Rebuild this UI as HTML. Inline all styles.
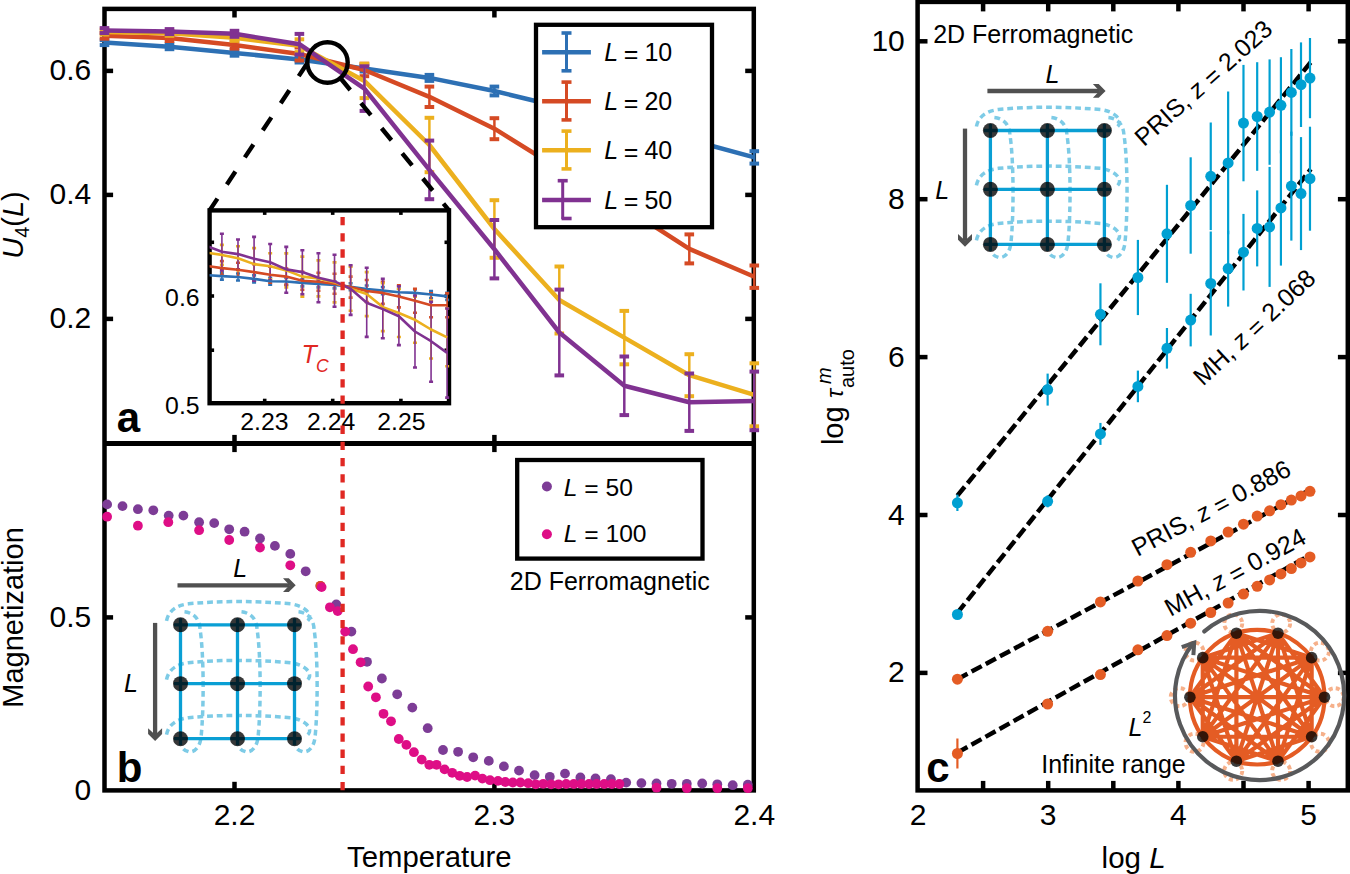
<!DOCTYPE html><html><head><meta charset="utf-8"><style>html,body{margin:0;padding:0;background:#fff;width:1350px;height:874px;overflow:hidden}svg{display:block}</style></head><body><svg width="1350" height="874" viewBox="0 0 1350 874" font-family='"Liberation Sans", sans-serif'>
<rect width="1350" height="874" fill="#fff"/>
<rect x="104.5" y="8.9" width="649.3" height="781.5" fill="none" stroke="#000" stroke-width="4.5"/>
<line x1="104.5" y1="443.5" x2="753.8" y2="443.5" stroke="#000" stroke-width="5" />
<line x1="104.5" y1="70.9" x2="113.1" y2="70.9" stroke="#000" stroke-width="4.5" />
<line x1="753.8" y1="70.9" x2="745.2" y2="70.9" stroke="#000" stroke-width="4.5" />
<line x1="104.5" y1="194.9" x2="113.1" y2="194.9" stroke="#000" stroke-width="4.5" />
<line x1="753.8" y1="194.9" x2="745.2" y2="194.9" stroke="#000" stroke-width="4.5" />
<line x1="104.5" y1="318.9" x2="113.1" y2="318.9" stroke="#000" stroke-width="4.5" />
<line x1="753.8" y1="318.9" x2="745.2" y2="318.9" stroke="#000" stroke-width="4.5" />
<line x1="234.5" y1="8.9" x2="234.5" y2="17.5" stroke="#000" stroke-width="4.5" />
<line x1="234.5" y1="434.9" x2="234.5" y2="452.1" stroke="#000" stroke-width="4.5" />
<line x1="234.5" y1="790.4" x2="234.5" y2="781.8" stroke="#000" stroke-width="4.5" />
<line x1="494.4" y1="8.9" x2="494.4" y2="17.5" stroke="#000" stroke-width="4.5" />
<line x1="494.4" y1="434.9" x2="494.4" y2="452.1" stroke="#000" stroke-width="4.5" />
<line x1="494.4" y1="790.4" x2="494.4" y2="781.8" stroke="#000" stroke-width="4.5" />
<line x1="104.5" y1="617.4" x2="113.1" y2="617.4" stroke="#000" stroke-width="4.5" />
<line x1="753.8" y1="617.4" x2="745.2" y2="617.4" stroke="#000" stroke-width="4.5" />
<text x="91.2" y="80.4" font-size="30" text-anchor="end" fill="#000" >0.6</text>
<text x="91.2" y="204.4" font-size="30" text-anchor="end" fill="#000" >0.4</text>
<text x="91.2" y="328.4" font-size="30" text-anchor="end" fill="#000" >0.2</text>
<text x="91.2" y="626.9" font-size="30" text-anchor="end" fill="#000" >0.5</text>
<text x="91.2" y="799.9" font-size="30" text-anchor="end" fill="#000" >0</text>
<text x="234.5" y="825.3" font-size="30" text-anchor="middle" fill="#000" >2.2</text>
<text x="494.4" y="825.3" font-size="30" text-anchor="middle" fill="#000" >2.3</text>
<text x="754.3" y="825.3" font-size="30" text-anchor="middle" fill="#000" >2.4</text>
<text x="429.3" y="867" font-size="29.3" text-anchor="middle" fill="#000" >Temperature</text>
<text transform="translate(22.7,225) rotate(-90)" font-size="29" text-anchor="middle"><tspan font-style="italic">U</tspan><tspan font-size="20" dy="6">4</tspan><tspan dy="-6">(</tspan><tspan font-style="italic">L</tspan>)</text>
<text transform="translate(22.9,617.5) rotate(-90)" font-size="29" text-anchor="middle">Magnetization</text>
<polyline points="104.5,42.6 169.5,46.7 234.5,52.9 299.4,59.5 364.4,68.5 429.4,77.9 494.4,91 559.3,106.8 624.3,123 689.3,139.7 754.3,157.4" fill="none" stroke="#2D70B4" stroke-width="4.5" stroke-linejoin="round" />
<line x1="104.5" y1="40.1" x2="104.5" y2="45.1" stroke="#2D70B4" stroke-width="2.5" />
<line x1="99.7" y1="40.1" x2="109.3" y2="40.1" stroke="#2D70B4" stroke-width="4" />
<line x1="99.7" y1="45.1" x2="109.3" y2="45.1" stroke="#2D70B4" stroke-width="4" />
<line x1="169.5" y1="44.2" x2="169.5" y2="49.2" stroke="#2D70B4" stroke-width="2.5" />
<line x1="164.7" y1="44.2" x2="174.3" y2="44.2" stroke="#2D70B4" stroke-width="4" />
<line x1="164.7" y1="49.2" x2="174.3" y2="49.2" stroke="#2D70B4" stroke-width="4" />
<line x1="234.5" y1="50.1" x2="234.5" y2="55.7" stroke="#2D70B4" stroke-width="2.5" />
<line x1="229.7" y1="50.1" x2="239.3" y2="50.1" stroke="#2D70B4" stroke-width="4" />
<line x1="229.7" y1="55.7" x2="239.3" y2="55.7" stroke="#2D70B4" stroke-width="4" />
<line x1="299.4" y1="56.5" x2="299.4" y2="62.5" stroke="#2D70B4" stroke-width="2.5" />
<line x1="294.6" y1="56.5" x2="304.2" y2="56.5" stroke="#2D70B4" stroke-width="4" />
<line x1="294.6" y1="62.5" x2="304.2" y2="62.5" stroke="#2D70B4" stroke-width="4" />
<line x1="364.4" y1="65.5" x2="364.4" y2="71.5" stroke="#2D70B4" stroke-width="2.5" />
<line x1="359.6" y1="65.5" x2="369.2" y2="65.5" stroke="#2D70B4" stroke-width="4" />
<line x1="359.6" y1="71.5" x2="369.2" y2="71.5" stroke="#2D70B4" stroke-width="4" />
<line x1="429.4" y1="74.9" x2="429.4" y2="80.9" stroke="#2D70B4" stroke-width="2.5" />
<line x1="424.6" y1="74.9" x2="434.2" y2="74.9" stroke="#2D70B4" stroke-width="4" />
<line x1="424.6" y1="80.9" x2="434.2" y2="80.9" stroke="#2D70B4" stroke-width="4" />
<line x1="494.4" y1="86.6" x2="494.4" y2="95.4" stroke="#2D70B4" stroke-width="2.5" />
<line x1="489.6" y1="86.6" x2="499.2" y2="86.6" stroke="#2D70B4" stroke-width="4" />
<line x1="489.6" y1="95.4" x2="499.2" y2="95.4" stroke="#2D70B4" stroke-width="4" />
<line x1="559.3" y1="101.8" x2="559.3" y2="111.8" stroke="#2D70B4" stroke-width="2.5" />
<line x1="554.5" y1="101.8" x2="564.1" y2="101.8" stroke="#2D70B4" stroke-width="4" />
<line x1="554.5" y1="111.8" x2="564.1" y2="111.8" stroke="#2D70B4" stroke-width="4" />
<line x1="624.3" y1="117.5" x2="624.3" y2="128.5" stroke="#2D70B4" stroke-width="2.5" />
<line x1="619.5" y1="117.5" x2="629.1" y2="117.5" stroke="#2D70B4" stroke-width="4" />
<line x1="619.5" y1="128.5" x2="629.1" y2="128.5" stroke="#2D70B4" stroke-width="4" />
<line x1="689.3" y1="133.7" x2="689.3" y2="145.7" stroke="#2D70B4" stroke-width="2.5" />
<line x1="684.5" y1="133.7" x2="694.1" y2="133.7" stroke="#2D70B4" stroke-width="4" />
<line x1="684.5" y1="145.7" x2="694.1" y2="145.7" stroke="#2D70B4" stroke-width="4" />
<line x1="754.3" y1="151.2" x2="754.3" y2="163.6" stroke="#2D70B4" stroke-width="2.5" />
<line x1="749.5" y1="151.2" x2="759.1" y2="151.2" stroke="#2D70B4" stroke-width="4" />
<line x1="749.5" y1="163.6" x2="759.1" y2="163.6" stroke="#2D70B4" stroke-width="4" />
<polyline points="104.5,35.7 169.5,38 234.5,45.1 299.4,54 364.4,70 429.4,96.8 494.4,128.7 559.3,169 624.3,207 689.3,248.9 754.3,276.7" fill="none" stroke="#D54A24" stroke-width="4.5" stroke-linejoin="round" />
<line x1="104.5" y1="32.7" x2="104.5" y2="38.7" stroke="#D54A24" stroke-width="2.5" />
<line x1="99.7" y1="32.7" x2="109.3" y2="32.7" stroke="#D54A24" stroke-width="4" />
<line x1="99.7" y1="38.7" x2="109.3" y2="38.7" stroke="#D54A24" stroke-width="4" />
<line x1="169.5" y1="35" x2="169.5" y2="41" stroke="#D54A24" stroke-width="2.5" />
<line x1="164.7" y1="35" x2="174.3" y2="35" stroke="#D54A24" stroke-width="4" />
<line x1="164.7" y1="41" x2="174.3" y2="41" stroke="#D54A24" stroke-width="4" />
<line x1="234.5" y1="41.6" x2="234.5" y2="48.6" stroke="#D54A24" stroke-width="2.5" />
<line x1="229.7" y1="41.6" x2="239.3" y2="41.6" stroke="#D54A24" stroke-width="4" />
<line x1="229.7" y1="48.6" x2="239.3" y2="48.6" stroke="#D54A24" stroke-width="4" />
<line x1="299.4" y1="47.5" x2="299.4" y2="60.5" stroke="#D54A24" stroke-width="2.5" />
<line x1="294.6" y1="47.5" x2="304.2" y2="47.5" stroke="#D54A24" stroke-width="4" />
<line x1="294.6" y1="60.5" x2="304.2" y2="60.5" stroke="#D54A24" stroke-width="4" />
<line x1="364.4" y1="63.8" x2="364.4" y2="76.2" stroke="#D54A24" stroke-width="2.5" />
<line x1="359.6" y1="63.8" x2="369.2" y2="63.8" stroke="#D54A24" stroke-width="4" />
<line x1="359.6" y1="76.2" x2="369.2" y2="76.2" stroke="#D54A24" stroke-width="4" />
<line x1="429.4" y1="86.6" x2="429.4" y2="107" stroke="#D54A24" stroke-width="2.5" />
<line x1="424.6" y1="86.6" x2="434.2" y2="86.6" stroke="#D54A24" stroke-width="4" />
<line x1="424.6" y1="107" x2="434.2" y2="107" stroke="#D54A24" stroke-width="4" />
<line x1="494.4" y1="118.2" x2="494.4" y2="139.2" stroke="#D54A24" stroke-width="2.5" />
<line x1="489.6" y1="118.2" x2="499.2" y2="118.2" stroke="#D54A24" stroke-width="4" />
<line x1="489.6" y1="139.2" x2="499.2" y2="139.2" stroke="#D54A24" stroke-width="4" />
<line x1="559.3" y1="157" x2="559.3" y2="181" stroke="#D54A24" stroke-width="2.5" />
<line x1="554.5" y1="157" x2="564.1" y2="157" stroke="#D54A24" stroke-width="4" />
<line x1="554.5" y1="181" x2="564.1" y2="181" stroke="#D54A24" stroke-width="4" />
<line x1="624.3" y1="194" x2="624.3" y2="220" stroke="#D54A24" stroke-width="2.5" />
<line x1="619.5" y1="194" x2="629.1" y2="194" stroke="#D54A24" stroke-width="4" />
<line x1="619.5" y1="220" x2="629.1" y2="220" stroke="#D54A24" stroke-width="4" />
<line x1="689.3" y1="234.4" x2="689.3" y2="263.4" stroke="#D54A24" stroke-width="2.5" />
<line x1="684.5" y1="234.4" x2="694.1" y2="234.4" stroke="#D54A24" stroke-width="4" />
<line x1="684.5" y1="263.4" x2="694.1" y2="263.4" stroke="#D54A24" stroke-width="4" />
<line x1="754.3" y1="265.5" x2="754.3" y2="287.9" stroke="#D54A24" stroke-width="2.5" />
<line x1="749.5" y1="265.5" x2="759.1" y2="265.5" stroke="#D54A24" stroke-width="4" />
<line x1="749.5" y1="287.9" x2="759.1" y2="287.9" stroke="#D54A24" stroke-width="4" />
<polyline points="104.5,32 169.5,33.3 234.5,37.8 299.4,45.7 364.4,80.9 429.4,145 494.4,229 559.3,300 624.3,337.6 689.3,375.2 754.3,394.8" fill="none" stroke="#ECB01E" stroke-width="4.5" stroke-linejoin="round" />
<line x1="104.5" y1="29.5" x2="104.5" y2="34.5" stroke="#ECB01E" stroke-width="2.5" />
<line x1="99.7" y1="29.5" x2="109.3" y2="29.5" stroke="#ECB01E" stroke-width="4" />
<line x1="99.7" y1="34.5" x2="109.3" y2="34.5" stroke="#ECB01E" stroke-width="4" />
<line x1="169.5" y1="30.8" x2="169.5" y2="35.8" stroke="#ECB01E" stroke-width="2.5" />
<line x1="164.7" y1="30.8" x2="174.3" y2="30.8" stroke="#ECB01E" stroke-width="4" />
<line x1="164.7" y1="35.8" x2="174.3" y2="35.8" stroke="#ECB01E" stroke-width="4" />
<line x1="234.5" y1="34.8" x2="234.5" y2="40.8" stroke="#ECB01E" stroke-width="2.5" />
<line x1="229.7" y1="34.8" x2="239.3" y2="34.8" stroke="#ECB01E" stroke-width="4" />
<line x1="229.7" y1="40.8" x2="239.3" y2="40.8" stroke="#ECB01E" stroke-width="4" />
<line x1="299.4" y1="39.3" x2="299.4" y2="52.1" stroke="#ECB01E" stroke-width="2.5" />
<line x1="294.6" y1="39.3" x2="304.2" y2="39.3" stroke="#ECB01E" stroke-width="4" />
<line x1="294.6" y1="52.1" x2="304.2" y2="52.1" stroke="#ECB01E" stroke-width="4" />
<line x1="364.4" y1="63.7" x2="364.4" y2="98.1" stroke="#ECB01E" stroke-width="2.5" />
<line x1="359.6" y1="63.7" x2="369.2" y2="63.7" stroke="#ECB01E" stroke-width="4" />
<line x1="359.6" y1="98.1" x2="369.2" y2="98.1" stroke="#ECB01E" stroke-width="4" />
<line x1="429.4" y1="117.8" x2="429.4" y2="172.2" stroke="#ECB01E" stroke-width="2.5" />
<line x1="424.6" y1="117.8" x2="434.2" y2="117.8" stroke="#ECB01E" stroke-width="4" />
<line x1="424.6" y1="172.2" x2="434.2" y2="172.2" stroke="#ECB01E" stroke-width="4" />
<line x1="494.4" y1="200.2" x2="494.4" y2="257.8" stroke="#ECB01E" stroke-width="2.5" />
<line x1="489.6" y1="200.2" x2="499.2" y2="200.2" stroke="#ECB01E" stroke-width="4" />
<line x1="489.6" y1="257.8" x2="499.2" y2="257.8" stroke="#ECB01E" stroke-width="4" />
<line x1="559.3" y1="266.5" x2="559.3" y2="333.5" stroke="#ECB01E" stroke-width="2.5" />
<line x1="554.5" y1="266.5" x2="564.1" y2="266.5" stroke="#ECB01E" stroke-width="4" />
<line x1="554.5" y1="333.5" x2="564.1" y2="333.5" stroke="#ECB01E" stroke-width="4" />
<line x1="624.3" y1="310.9" x2="624.3" y2="364.3" stroke="#ECB01E" stroke-width="2.5" />
<line x1="619.5" y1="310.9" x2="629.1" y2="310.9" stroke="#ECB01E" stroke-width="4" />
<line x1="619.5" y1="364.3" x2="629.1" y2="364.3" stroke="#ECB01E" stroke-width="4" />
<line x1="689.3" y1="354.2" x2="689.3" y2="396.2" stroke="#ECB01E" stroke-width="2.5" />
<line x1="684.5" y1="354.2" x2="694.1" y2="354.2" stroke="#ECB01E" stroke-width="4" />
<line x1="684.5" y1="396.2" x2="694.1" y2="396.2" stroke="#ECB01E" stroke-width="4" />
<line x1="754.3" y1="363.3" x2="754.3" y2="426.3" stroke="#ECB01E" stroke-width="2.5" />
<line x1="749.5" y1="363.3" x2="759.1" y2="363.3" stroke="#ECB01E" stroke-width="4" />
<line x1="749.5" y1="426.3" x2="759.1" y2="426.3" stroke="#ECB01E" stroke-width="4" />
<polyline points="104.5,30.6 169.5,31.6 234.5,33.8 299.4,44.2 364.4,88.6 429.4,169.9 494.4,249.2 559.3,332.5 624.3,385.8 689.3,402.2 754.3,400.9" fill="none" stroke="#803291" stroke-width="4.5" stroke-linejoin="round" />
<line x1="104.5" y1="28.1" x2="104.5" y2="33.1" stroke="#803291" stroke-width="2.5" />
<line x1="99.7" y1="28.1" x2="109.3" y2="28.1" stroke="#803291" stroke-width="4" />
<line x1="99.7" y1="33.1" x2="109.3" y2="33.1" stroke="#803291" stroke-width="4" />
<line x1="169.5" y1="29.1" x2="169.5" y2="34.1" stroke="#803291" stroke-width="2.5" />
<line x1="164.7" y1="29.1" x2="174.3" y2="29.1" stroke="#803291" stroke-width="4" />
<line x1="164.7" y1="34.1" x2="174.3" y2="34.1" stroke="#803291" stroke-width="4" />
<line x1="234.5" y1="30.8" x2="234.5" y2="36.8" stroke="#803291" stroke-width="2.5" />
<line x1="229.7" y1="30.8" x2="239.3" y2="30.8" stroke="#803291" stroke-width="4" />
<line x1="229.7" y1="36.8" x2="239.3" y2="36.8" stroke="#803291" stroke-width="4" />
<line x1="299.4" y1="33.9" x2="299.4" y2="54.5" stroke="#803291" stroke-width="2.5" />
<line x1="294.6" y1="33.9" x2="304.2" y2="33.9" stroke="#803291" stroke-width="4" />
<line x1="294.6" y1="54.5" x2="304.2" y2="54.5" stroke="#803291" stroke-width="4" />
<line x1="364.4" y1="66.3" x2="364.4" y2="110.9" stroke="#803291" stroke-width="2.5" />
<line x1="359.6" y1="66.3" x2="369.2" y2="66.3" stroke="#803291" stroke-width="4" />
<line x1="359.6" y1="110.9" x2="369.2" y2="110.9" stroke="#803291" stroke-width="4" />
<line x1="429.4" y1="140.6" x2="429.4" y2="199.2" stroke="#803291" stroke-width="2.5" />
<line x1="424.6" y1="140.6" x2="434.2" y2="140.6" stroke="#803291" stroke-width="4" />
<line x1="424.6" y1="199.2" x2="434.2" y2="199.2" stroke="#803291" stroke-width="4" />
<line x1="494.4" y1="220" x2="494.4" y2="278.4" stroke="#803291" stroke-width="2.5" />
<line x1="489.6" y1="220" x2="499.2" y2="220" stroke="#803291" stroke-width="4" />
<line x1="489.6" y1="278.4" x2="499.2" y2="278.4" stroke="#803291" stroke-width="4" />
<line x1="559.3" y1="289.6" x2="559.3" y2="375.4" stroke="#803291" stroke-width="2.5" />
<line x1="554.5" y1="289.6" x2="564.1" y2="289.6" stroke="#803291" stroke-width="4" />
<line x1="554.5" y1="375.4" x2="564.1" y2="375.4" stroke="#803291" stroke-width="4" />
<line x1="624.3" y1="356.5" x2="624.3" y2="415.1" stroke="#803291" stroke-width="2.5" />
<line x1="619.5" y1="356.5" x2="629.1" y2="356.5" stroke="#803291" stroke-width="4" />
<line x1="619.5" y1="415.1" x2="629.1" y2="415.1" stroke="#803291" stroke-width="4" />
<line x1="689.3" y1="373.5" x2="689.3" y2="430.9" stroke="#803291" stroke-width="2.5" />
<line x1="684.5" y1="373.5" x2="694.1" y2="373.5" stroke="#803291" stroke-width="4" />
<line x1="684.5" y1="430.9" x2="694.1" y2="430.9" stroke="#803291" stroke-width="4" />
<line x1="754.3" y1="371.6" x2="754.3" y2="430.2" stroke="#803291" stroke-width="2.5" />
<line x1="749.5" y1="371.6" x2="759.1" y2="371.6" stroke="#803291" stroke-width="4" />
<line x1="749.5" y1="430.2" x2="759.1" y2="430.2" stroke="#803291" stroke-width="4" />
<rect x="536" y="24.8" width="176" height="202.4" fill="#fff" stroke="#000" stroke-width="4.3"/>
<line x1="542.1" y1="52.2" x2="590.9" y2="52.2" stroke="#2D70B4" stroke-width="4.5" />
<line x1="566.5" y1="33" x2="566.5" y2="71.4" stroke="#2D70B4" stroke-width="3" />
<line x1="561.5" y1="33" x2="571.5" y2="33" stroke="#2D70B4" stroke-width="3.6" />
<line x1="561.5" y1="70.8" x2="571.5" y2="70.8" stroke="#2D70B4" stroke-width="3.6" />
<text x="604.2" y="61" font-size="25" text-anchor="start" fill="#000" ><tspan font-style="italic">L</tspan><tspan dx="-1.2" dy="1.6"> = </tspan><tspan dx="-1" dy="-1.6">10</tspan></text>
<line x1="542.1" y1="101.3" x2="590.9" y2="101.3" stroke="#D54A24" stroke-width="4.5" />
<line x1="566.5" y1="82.1" x2="566.5" y2="120.5" stroke="#D54A24" stroke-width="3" />
<line x1="561.5" y1="82.1" x2="571.5" y2="82.1" stroke="#D54A24" stroke-width="3.6" />
<line x1="561.5" y1="119.9" x2="571.5" y2="119.9" stroke="#D54A24" stroke-width="3.6" />
<text x="604.2" y="110.1" font-size="25" text-anchor="start" fill="#000" ><tspan font-style="italic">L</tspan><tspan dx="-1.2" dy="1.6"> = </tspan><tspan dx="-1" dy="-1.6">20</tspan></text>
<line x1="542.1" y1="150.3" x2="590.9" y2="150.3" stroke="#ECB01E" stroke-width="4.5" />
<line x1="566.5" y1="131.1" x2="566.5" y2="169.5" stroke="#ECB01E" stroke-width="3" />
<line x1="561.5" y1="131.1" x2="571.5" y2="131.1" stroke="#ECB01E" stroke-width="3.6" />
<line x1="561.5" y1="168.9" x2="571.5" y2="168.9" stroke="#ECB01E" stroke-width="3.6" />
<text x="604.2" y="159.1" font-size="25" text-anchor="start" fill="#000" ><tspan font-style="italic">L</tspan><tspan dx="-1.2" dy="1.6"> = </tspan><tspan dx="-1" dy="-1.6">40</tspan></text>
<line x1="542.1" y1="199.9" x2="590.9" y2="199.9" stroke="#803291" stroke-width="4.5" />
<line x1="562.7" y1="180.7" x2="562.7" y2="219.1" stroke="#803291" stroke-width="3" />
<line x1="557.7" y1="180.7" x2="567.7" y2="180.7" stroke="#803291" stroke-width="3.6" />
<line x1="561.6" y1="218.5" x2="571.6" y2="218.5" stroke="#803291" stroke-width="3.6" />
<text x="604.2" y="208.7" font-size="25" text-anchor="start" fill="#000" ><tspan font-style="italic">L</tspan><tspan dx="-1.2" dy="1.6"> = </tspan><tspan dx="-1" dy="-1.6">50</tspan></text>
<rect x="209.6" y="210.4" width="239.4" height="192.8" fill="#fff" stroke="none"/>
<clipPath id="ic"><rect x="209.6" y="207.4" width="241.8" height="197.8"/></clipPath>
<rect x="209.6" y="210.4" width="239.4" height="192.8" fill="none" stroke="#000" stroke-width="4.4"/>
<line x1="264.7" y1="210.4" x2="264.7" y2="214.9" stroke="#000" stroke-width="3.6" />
<line x1="264.7" y1="403.2" x2="264.7" y2="398.7" stroke="#000" stroke-width="3.6" />
<line x1="332.7" y1="210.4" x2="332.7" y2="214.9" stroke="#000" stroke-width="3.6" />
<line x1="332.7" y1="403.2" x2="332.7" y2="398.7" stroke="#000" stroke-width="3.6" />
<line x1="400.9" y1="210.4" x2="400.9" y2="214.9" stroke="#000" stroke-width="3.6" />
<line x1="400.9" y1="403.2" x2="400.9" y2="398.7" stroke="#000" stroke-width="3.6" />
<line x1="209.6" y1="242.3" x2="214.1" y2="242.3" stroke="#000" stroke-width="3.6" />
<line x1="449" y1="242.3" x2="444.5" y2="242.3" stroke="#000" stroke-width="3.6" />
<line x1="209.6" y1="296" x2="214.1" y2="296" stroke="#000" stroke-width="3.6" />
<line x1="449" y1="296" x2="444.5" y2="296" stroke="#000" stroke-width="3.6" />
<line x1="209.6" y1="350.2" x2="214.1" y2="350.2" stroke="#000" stroke-width="3.6" />
<line x1="449" y1="350.2" x2="444.5" y2="350.2" stroke="#000" stroke-width="3.6" />
<g clip-path="url(#ic)">
<line x1="205.81" y1="271.5" x2="205.81" y2="278.5" stroke="#2D70B4" stroke-width="1.6" />
<line x1="203.81" y1="271.5" x2="207.81" y2="271.5" stroke="#2D70B4" stroke-width="2.6" />
<line x1="203.81" y1="278.5" x2="207.81" y2="278.5" stroke="#2D70B4" stroke-width="2.6" />
<line x1="221.9" y1="272.6" x2="221.9" y2="279.6" stroke="#2D70B4" stroke-width="1.6" />
<line x1="219.9" y1="272.6" x2="223.9" y2="272.6" stroke="#2D70B4" stroke-width="2.6" />
<line x1="219.9" y1="279.6" x2="223.9" y2="279.6" stroke="#2D70B4" stroke-width="2.6" />
<line x1="237.99" y1="273.5" x2="237.99" y2="280.5" stroke="#2D70B4" stroke-width="1.6" />
<line x1="235.99" y1="273.5" x2="239.99" y2="273.5" stroke="#2D70B4" stroke-width="2.6" />
<line x1="235.99" y1="280.5" x2="239.99" y2="280.5" stroke="#2D70B4" stroke-width="2.6" />
<line x1="254.08" y1="275.4" x2="254.08" y2="282.4" stroke="#2D70B4" stroke-width="1.6" />
<line x1="252.08" y1="275.4" x2="256.08" y2="275.4" stroke="#2D70B4" stroke-width="2.6" />
<line x1="252.08" y1="282.4" x2="256.08" y2="282.4" stroke="#2D70B4" stroke-width="2.6" />
<line x1="270.17" y1="277.7" x2="270.17" y2="284.7" stroke="#2D70B4" stroke-width="1.6" />
<line x1="268.17" y1="277.7" x2="272.17" y2="277.7" stroke="#2D70B4" stroke-width="2.6" />
<line x1="268.17" y1="284.7" x2="272.17" y2="284.7" stroke="#2D70B4" stroke-width="2.6" />
<line x1="286.26" y1="278" x2="286.26" y2="285" stroke="#2D70B4" stroke-width="1.6" />
<line x1="284.26" y1="278" x2="288.26" y2="278" stroke="#2D70B4" stroke-width="2.6" />
<line x1="284.26" y1="285" x2="288.26" y2="285" stroke="#2D70B4" stroke-width="2.6" />
<line x1="302.35" y1="279.4" x2="302.35" y2="286.4" stroke="#2D70B4" stroke-width="1.6" />
<line x1="300.35" y1="279.4" x2="304.35" y2="279.4" stroke="#2D70B4" stroke-width="2.6" />
<line x1="300.35" y1="286.4" x2="304.35" y2="286.4" stroke="#2D70B4" stroke-width="2.6" />
<line x1="318.44" y1="280.4" x2="318.44" y2="287.4" stroke="#2D70B4" stroke-width="1.6" />
<line x1="316.44" y1="280.4" x2="320.44" y2="280.4" stroke="#2D70B4" stroke-width="2.6" />
<line x1="316.44" y1="287.4" x2="320.44" y2="287.4" stroke="#2D70B4" stroke-width="2.6" />
<line x1="334.53" y1="281.4" x2="334.53" y2="288.4" stroke="#2D70B4" stroke-width="1.6" />
<line x1="332.53" y1="281.4" x2="336.53" y2="281.4" stroke="#2D70B4" stroke-width="2.6" />
<line x1="332.53" y1="288.4" x2="336.53" y2="288.4" stroke="#2D70B4" stroke-width="2.6" />
<line x1="350.62" y1="283.2" x2="350.62" y2="290.2" stroke="#2D70B4" stroke-width="1.6" />
<line x1="348.62" y1="283.2" x2="352.62" y2="283.2" stroke="#2D70B4" stroke-width="2.6" />
<line x1="348.62" y1="290.2" x2="352.62" y2="290.2" stroke="#2D70B4" stroke-width="2.6" />
<line x1="366.71" y1="285.5" x2="366.71" y2="292.5" stroke="#2D70B4" stroke-width="1.6" />
<line x1="364.71" y1="285.5" x2="368.71" y2="285.5" stroke="#2D70B4" stroke-width="2.6" />
<line x1="364.71" y1="292.5" x2="368.71" y2="292.5" stroke="#2D70B4" stroke-width="2.6" />
<line x1="382.8" y1="287.1" x2="382.8" y2="294.1" stroke="#2D70B4" stroke-width="1.6" />
<line x1="380.8" y1="287.1" x2="384.8" y2="287.1" stroke="#2D70B4" stroke-width="2.6" />
<line x1="380.8" y1="294.1" x2="384.8" y2="294.1" stroke="#2D70B4" stroke-width="2.6" />
<line x1="398.89" y1="288.7" x2="398.89" y2="295.7" stroke="#2D70B4" stroke-width="1.6" />
<line x1="396.89" y1="288.7" x2="400.89" y2="288.7" stroke="#2D70B4" stroke-width="2.6" />
<line x1="396.89" y1="295.7" x2="400.89" y2="295.7" stroke="#2D70B4" stroke-width="2.6" />
<line x1="414.98" y1="289.4" x2="414.98" y2="296.4" stroke="#2D70B4" stroke-width="1.6" />
<line x1="412.98" y1="289.4" x2="416.98" y2="289.4" stroke="#2D70B4" stroke-width="2.6" />
<line x1="412.98" y1="296.4" x2="416.98" y2="296.4" stroke="#2D70B4" stroke-width="2.6" />
<line x1="431.07" y1="291" x2="431.07" y2="298" stroke="#2D70B4" stroke-width="1.6" />
<line x1="429.07" y1="291" x2="433.07" y2="291" stroke="#2D70B4" stroke-width="2.6" />
<line x1="429.07" y1="298" x2="433.07" y2="298" stroke="#2D70B4" stroke-width="2.6" />
<line x1="447.16" y1="292.9" x2="447.16" y2="299.9" stroke="#2D70B4" stroke-width="1.6" />
<line x1="445.16" y1="292.9" x2="449.16" y2="292.9" stroke="#2D70B4" stroke-width="2.6" />
<line x1="445.16" y1="299.9" x2="449.16" y2="299.9" stroke="#2D70B4" stroke-width="2.6" />
<line x1="205.81" y1="258.8" x2="205.81" y2="272.8" stroke="#D54A24" stroke-width="1.6" />
<line x1="203.81" y1="258.8" x2="207.81" y2="258.8" stroke="#D54A24" stroke-width="2.6" />
<line x1="203.81" y1="272.8" x2="207.81" y2="272.8" stroke="#D54A24" stroke-width="2.6" />
<line x1="221.9" y1="261.1" x2="221.9" y2="275.1" stroke="#D54A24" stroke-width="1.6" />
<line x1="219.9" y1="261.1" x2="223.9" y2="261.1" stroke="#D54A24" stroke-width="2.6" />
<line x1="219.9" y1="275.1" x2="223.9" y2="275.1" stroke="#D54A24" stroke-width="2.6" />
<line x1="237.99" y1="262.8" x2="237.99" y2="276.8" stroke="#D54A24" stroke-width="1.6" />
<line x1="235.99" y1="262.8" x2="239.99" y2="262.8" stroke="#D54A24" stroke-width="2.6" />
<line x1="235.99" y1="276.8" x2="239.99" y2="276.8" stroke="#D54A24" stroke-width="2.6" />
<line x1="254.08" y1="264.1" x2="254.08" y2="280.1" stroke="#D54A24" stroke-width="1.6" />
<line x1="252.08" y1="264.1" x2="256.08" y2="264.1" stroke="#D54A24" stroke-width="2.6" />
<line x1="252.08" y1="280.1" x2="256.08" y2="280.1" stroke="#D54A24" stroke-width="2.6" />
<line x1="270.17" y1="266.7" x2="270.17" y2="282.7" stroke="#D54A24" stroke-width="1.6" />
<line x1="268.17" y1="266.7" x2="272.17" y2="266.7" stroke="#D54A24" stroke-width="2.6" />
<line x1="268.17" y1="282.7" x2="272.17" y2="282.7" stroke="#D54A24" stroke-width="2.6" />
<line x1="286.26" y1="268.6" x2="286.26" y2="284.6" stroke="#D54A24" stroke-width="1.6" />
<line x1="284.26" y1="268.6" x2="288.26" y2="268.6" stroke="#D54A24" stroke-width="2.6" />
<line x1="284.26" y1="284.6" x2="288.26" y2="284.6" stroke="#D54A24" stroke-width="2.6" />
<line x1="302.35" y1="271.7" x2="302.35" y2="289.7" stroke="#D54A24" stroke-width="1.6" />
<line x1="300.35" y1="271.7" x2="304.35" y2="271.7" stroke="#D54A24" stroke-width="2.6" />
<line x1="300.35" y1="289.7" x2="304.35" y2="289.7" stroke="#D54A24" stroke-width="2.6" />
<line x1="318.44" y1="272.8" x2="318.44" y2="290.8" stroke="#D54A24" stroke-width="1.6" />
<line x1="316.44" y1="272.8" x2="320.44" y2="272.8" stroke="#D54A24" stroke-width="2.6" />
<line x1="316.44" y1="290.8" x2="320.44" y2="290.8" stroke="#D54A24" stroke-width="2.6" />
<line x1="334.53" y1="273.8" x2="334.53" y2="293.8" stroke="#D54A24" stroke-width="1.6" />
<line x1="332.53" y1="273.8" x2="336.53" y2="273.8" stroke="#D54A24" stroke-width="2.6" />
<line x1="332.53" y1="293.8" x2="336.53" y2="293.8" stroke="#D54A24" stroke-width="2.6" />
<line x1="350.62" y1="276.6" x2="350.62" y2="297.6" stroke="#D54A24" stroke-width="1.6" />
<line x1="348.62" y1="276.6" x2="352.62" y2="276.6" stroke="#D54A24" stroke-width="2.6" />
<line x1="348.62" y1="297.6" x2="352.62" y2="297.6" stroke="#D54A24" stroke-width="2.6" />
<line x1="366.71" y1="280" x2="366.71" y2="302" stroke="#D54A24" stroke-width="1.6" />
<line x1="364.71" y1="280" x2="368.71" y2="280" stroke="#D54A24" stroke-width="2.6" />
<line x1="364.71" y1="302" x2="368.71" y2="302" stroke="#D54A24" stroke-width="2.6" />
<line x1="382.8" y1="281.9" x2="382.8" y2="303.9" stroke="#D54A24" stroke-width="1.6" />
<line x1="380.8" y1="281.9" x2="384.8" y2="281.9" stroke="#D54A24" stroke-width="2.6" />
<line x1="380.8" y1="303.9" x2="384.8" y2="303.9" stroke="#D54A24" stroke-width="2.6" />
<line x1="398.89" y1="285.4" x2="398.89" y2="307.4" stroke="#D54A24" stroke-width="1.6" />
<line x1="396.89" y1="285.4" x2="400.89" y2="285.4" stroke="#D54A24" stroke-width="2.6" />
<line x1="396.89" y1="307.4" x2="400.89" y2="307.4" stroke="#D54A24" stroke-width="2.6" />
<line x1="414.98" y1="288.7" x2="414.98" y2="312.7" stroke="#D54A24" stroke-width="1.6" />
<line x1="412.98" y1="288.7" x2="416.98" y2="288.7" stroke="#D54A24" stroke-width="2.6" />
<line x1="412.98" y1="312.7" x2="416.98" y2="312.7" stroke="#D54A24" stroke-width="2.6" />
<line x1="431.07" y1="293.2" x2="431.07" y2="317.2" stroke="#D54A24" stroke-width="1.6" />
<line x1="429.07" y1="293.2" x2="433.07" y2="293.2" stroke="#D54A24" stroke-width="2.6" />
<line x1="429.07" y1="317.2" x2="433.07" y2="317.2" stroke="#D54A24" stroke-width="2.6" />
<line x1="447.16" y1="293.2" x2="447.16" y2="317.2" stroke="#D54A24" stroke-width="1.6" />
<line x1="445.16" y1="293.2" x2="449.16" y2="293.2" stroke="#D54A24" stroke-width="2.6" />
<line x1="445.16" y1="317.2" x2="449.16" y2="317.2" stroke="#D54A24" stroke-width="2.6" />
<line x1="205.81" y1="242.6" x2="205.81" y2="262.6" stroke="#ECB01E" stroke-width="1.6" />
<line x1="203.81" y1="242.6" x2="207.81" y2="242.6" stroke="#ECB01E" stroke-width="2.6" />
<line x1="203.81" y1="262.6" x2="207.81" y2="262.6" stroke="#ECB01E" stroke-width="2.6" />
<line x1="221.9" y1="244.9" x2="221.9" y2="264.9" stroke="#ECB01E" stroke-width="1.6" />
<line x1="219.9" y1="244.9" x2="223.9" y2="244.9" stroke="#ECB01E" stroke-width="2.6" />
<line x1="219.9" y1="264.9" x2="223.9" y2="264.9" stroke="#ECB01E" stroke-width="2.6" />
<line x1="237.99" y1="246.3" x2="237.99" y2="270.3" stroke="#ECB01E" stroke-width="1.6" />
<line x1="235.99" y1="246.3" x2="239.99" y2="246.3" stroke="#ECB01E" stroke-width="2.6" />
<line x1="235.99" y1="270.3" x2="239.99" y2="270.3" stroke="#ECB01E" stroke-width="2.6" />
<line x1="254.08" y1="248.1" x2="254.08" y2="280.1" stroke="#ECB01E" stroke-width="1.6" />
<line x1="252.08" y1="248.1" x2="256.08" y2="248.1" stroke="#ECB01E" stroke-width="2.6" />
<line x1="252.08" y1="280.1" x2="256.08" y2="280.1" stroke="#ECB01E" stroke-width="2.6" />
<line x1="270.17" y1="253.3" x2="270.17" y2="279.3" stroke="#ECB01E" stroke-width="1.6" />
<line x1="268.17" y1="253.3" x2="272.17" y2="253.3" stroke="#ECB01E" stroke-width="2.6" />
<line x1="268.17" y1="279.3" x2="272.17" y2="279.3" stroke="#ECB01E" stroke-width="2.6" />
<line x1="286.26" y1="253.4" x2="286.26" y2="287.4" stroke="#ECB01E" stroke-width="1.6" />
<line x1="284.26" y1="253.4" x2="288.26" y2="253.4" stroke="#ECB01E" stroke-width="2.6" />
<line x1="284.26" y1="287.4" x2="288.26" y2="287.4" stroke="#ECB01E" stroke-width="2.6" />
<line x1="302.35" y1="256.6" x2="302.35" y2="296.6" stroke="#ECB01E" stroke-width="1.6" />
<line x1="300.35" y1="256.6" x2="304.35" y2="256.6" stroke="#ECB01E" stroke-width="2.6" />
<line x1="300.35" y1="296.6" x2="304.35" y2="296.6" stroke="#ECB01E" stroke-width="2.6" />
<line x1="318.44" y1="260.4" x2="318.44" y2="296.4" stroke="#ECB01E" stroke-width="1.6" />
<line x1="316.44" y1="260.4" x2="320.44" y2="260.4" stroke="#ECB01E" stroke-width="2.6" />
<line x1="316.44" y1="296.4" x2="320.44" y2="296.4" stroke="#ECB01E" stroke-width="2.6" />
<line x1="334.53" y1="262.4" x2="334.53" y2="302.4" stroke="#ECB01E" stroke-width="1.6" />
<line x1="332.53" y1="262.4" x2="336.53" y2="262.4" stroke="#ECB01E" stroke-width="2.6" />
<line x1="332.53" y1="302.4" x2="336.53" y2="302.4" stroke="#ECB01E" stroke-width="2.6" />
<line x1="350.62" y1="266.7" x2="350.62" y2="310.7" stroke="#ECB01E" stroke-width="1.6" />
<line x1="348.62" y1="266.7" x2="352.62" y2="266.7" stroke="#ECB01E" stroke-width="2.6" />
<line x1="348.62" y1="310.7" x2="352.62" y2="310.7" stroke="#ECB01E" stroke-width="2.6" />
<line x1="366.71" y1="272.1" x2="366.71" y2="316.1" stroke="#ECB01E" stroke-width="1.6" />
<line x1="364.71" y1="272.1" x2="368.71" y2="272.1" stroke="#ECB01E" stroke-width="2.6" />
<line x1="364.71" y1="316.1" x2="368.71" y2="316.1" stroke="#ECB01E" stroke-width="2.6" />
<line x1="382.8" y1="283.1" x2="382.8" y2="331.1" stroke="#ECB01E" stroke-width="1.6" />
<line x1="380.8" y1="283.1" x2="384.8" y2="283.1" stroke="#ECB01E" stroke-width="2.6" />
<line x1="380.8" y1="331.1" x2="384.8" y2="331.1" stroke="#ECB01E" stroke-width="2.6" />
<line x1="398.89" y1="289" x2="398.89" y2="337" stroke="#ECB01E" stroke-width="1.6" />
<line x1="396.89" y1="289" x2="400.89" y2="289" stroke="#ECB01E" stroke-width="2.6" />
<line x1="396.89" y1="337" x2="400.89" y2="337" stroke="#ECB01E" stroke-width="2.6" />
<line x1="414.98" y1="296.8" x2="414.98" y2="342.8" stroke="#ECB01E" stroke-width="1.6" />
<line x1="412.98" y1="296.8" x2="416.98" y2="296.8" stroke="#ECB01E" stroke-width="2.6" />
<line x1="412.98" y1="342.8" x2="416.98" y2="342.8" stroke="#ECB01E" stroke-width="2.6" />
<line x1="431.07" y1="300.5" x2="431.07" y2="358.5" stroke="#ECB01E" stroke-width="1.6" />
<line x1="429.07" y1="300.5" x2="433.07" y2="300.5" stroke="#ECB01E" stroke-width="2.6" />
<line x1="429.07" y1="358.5" x2="433.07" y2="358.5" stroke="#ECB01E" stroke-width="2.6" />
<line x1="447.16" y1="308.3" x2="447.16" y2="366.3" stroke="#ECB01E" stroke-width="1.6" />
<line x1="445.16" y1="308.3" x2="449.16" y2="308.3" stroke="#ECB01E" stroke-width="2.6" />
<line x1="445.16" y1="366.3" x2="449.16" y2="366.3" stroke="#ECB01E" stroke-width="2.6" />
<line x1="205.81" y1="230" x2="205.81" y2="262" stroke="#803291" stroke-width="1.6" />
<line x1="203.81" y1="230" x2="207.81" y2="230" stroke="#803291" stroke-width="2.6" />
<line x1="203.81" y1="262" x2="207.81" y2="262" stroke="#803291" stroke-width="2.6" />
<line x1="221.9" y1="233.7" x2="221.9" y2="270.4" stroke="#803291" stroke-width="1.6" />
<line x1="219.9" y1="233.7" x2="223.9" y2="233.7" stroke="#803291" stroke-width="2.6" />
<line x1="219.9" y1="270.4" x2="223.9" y2="270.4" stroke="#803291" stroke-width="2.6" />
<line x1="237.99" y1="239.5" x2="237.99" y2="269.4" stroke="#803291" stroke-width="1.6" />
<line x1="235.99" y1="239.5" x2="239.99" y2="239.5" stroke="#803291" stroke-width="2.6" />
<line x1="235.99" y1="269.4" x2="239.99" y2="269.4" stroke="#803291" stroke-width="2.6" />
<line x1="254.08" y1="236.9" x2="254.08" y2="280.7" stroke="#803291" stroke-width="1.6" />
<line x1="252.08" y1="236.9" x2="256.08" y2="236.9" stroke="#803291" stroke-width="2.6" />
<line x1="252.08" y1="280.7" x2="256.08" y2="280.7" stroke="#803291" stroke-width="2.6" />
<line x1="270.17" y1="244" x2="270.17" y2="280.4" stroke="#803291" stroke-width="1.6" />
<line x1="268.17" y1="244" x2="272.17" y2="244" stroke="#803291" stroke-width="2.6" />
<line x1="268.17" y1="280.4" x2="272.17" y2="280.4" stroke="#803291" stroke-width="2.6" />
<line x1="286.26" y1="246.9" x2="286.26" y2="292.7" stroke="#803291" stroke-width="1.6" />
<line x1="284.26" y1="246.9" x2="288.26" y2="246.9" stroke="#803291" stroke-width="2.6" />
<line x1="284.26" y1="292.7" x2="288.26" y2="292.7" stroke="#803291" stroke-width="2.6" />
<line x1="302.35" y1="250.3" x2="302.35" y2="294.2" stroke="#803291" stroke-width="1.6" />
<line x1="300.35" y1="250.3" x2="304.35" y2="250.3" stroke="#803291" stroke-width="2.6" />
<line x1="300.35" y1="294.2" x2="304.35" y2="294.2" stroke="#803291" stroke-width="2.6" />
<line x1="318.44" y1="253.2" x2="318.44" y2="302.2" stroke="#803291" stroke-width="1.6" />
<line x1="316.44" y1="253.2" x2="320.44" y2="253.2" stroke="#803291" stroke-width="2.6" />
<line x1="316.44" y1="302.2" x2="320.44" y2="302.2" stroke="#803291" stroke-width="2.6" />
<line x1="334.53" y1="254.7" x2="334.53" y2="306.8" stroke="#803291" stroke-width="1.6" />
<line x1="332.53" y1="254.7" x2="336.53" y2="254.7" stroke="#803291" stroke-width="2.6" />
<line x1="332.53" y1="306.8" x2="336.53" y2="306.8" stroke="#803291" stroke-width="2.6" />
<line x1="350.62" y1="265.3" x2="350.62" y2="314.9" stroke="#803291" stroke-width="1.6" />
<line x1="348.62" y1="265.3" x2="352.62" y2="265.3" stroke="#803291" stroke-width="2.6" />
<line x1="348.62" y1="314.9" x2="352.62" y2="314.9" stroke="#803291" stroke-width="2.6" />
<line x1="366.71" y1="267.8" x2="366.71" y2="336.9" stroke="#803291" stroke-width="1.6" />
<line x1="364.71" y1="267.8" x2="368.71" y2="267.8" stroke="#803291" stroke-width="2.6" />
<line x1="364.71" y1="336.9" x2="368.71" y2="336.9" stroke="#803291" stroke-width="2.6" />
<line x1="382.8" y1="278.9" x2="382.8" y2="338.3" stroke="#803291" stroke-width="1.6" />
<line x1="380.8" y1="278.9" x2="384.8" y2="278.9" stroke="#803291" stroke-width="2.6" />
<line x1="380.8" y1="338.3" x2="384.8" y2="338.3" stroke="#803291" stroke-width="2.6" />
<line x1="398.89" y1="286.3" x2="398.89" y2="345.1" stroke="#803291" stroke-width="1.6" />
<line x1="396.89" y1="286.3" x2="400.89" y2="286.3" stroke="#803291" stroke-width="2.6" />
<line x1="396.89" y1="345.1" x2="400.89" y2="345.1" stroke="#803291" stroke-width="2.6" />
<line x1="414.98" y1="295.5" x2="414.98" y2="367.5" stroke="#803291" stroke-width="1.6" />
<line x1="412.98" y1="295.5" x2="416.98" y2="295.5" stroke="#803291" stroke-width="2.6" />
<line x1="412.98" y1="367.5" x2="416.98" y2="367.5" stroke="#803291" stroke-width="2.6" />
<line x1="431.07" y1="301.9" x2="431.07" y2="381.7" stroke="#803291" stroke-width="1.6" />
<line x1="429.07" y1="301.9" x2="433.07" y2="301.9" stroke="#803291" stroke-width="2.6" />
<line x1="429.07" y1="381.7" x2="433.07" y2="381.7" stroke="#803291" stroke-width="2.6" />
<line x1="447.16" y1="308.5" x2="447.16" y2="397.6" stroke="#803291" stroke-width="1.6" />
<line x1="445.16" y1="308.5" x2="449.16" y2="308.5" stroke="#803291" stroke-width="2.6" />
<line x1="445.16" y1="397.6" x2="449.16" y2="397.6" stroke="#803291" stroke-width="2.6" />
<polyline points="205.81,275 221.9,276.1 237.99,277 254.08,278.9 270.17,281.2 286.26,281.5 302.35,282.9 318.44,283.9 334.53,284.9 350.62,286.7 366.71,289 382.8,290.6 398.89,292.2 414.98,292.9 431.07,294.5 447.16,296.4" fill="none" stroke="#2D70B4" stroke-width="2.6" stroke-linejoin="round" />
<polyline points="205.81,265.8 221.9,268.1 237.99,269.8 254.08,272.1 270.17,274.7 286.26,276.6 302.35,280.7 318.44,281.8 334.53,283.8 350.62,287.1 366.71,291 382.8,292.9 398.89,296.4 414.98,300.7 431.07,305.2 447.16,305.2" fill="none" stroke="#D54A24" stroke-width="2.6" stroke-linejoin="round" />
<polyline points="205.81,252.6 221.9,254.9 237.99,258.3 254.08,264.1 270.17,266.3 286.26,270.4 302.35,276.6 318.44,278.4 334.53,282.4 350.62,288.7 366.71,294.1 382.8,307.1 398.89,313 414.98,319.8 431.07,329.5 447.16,337.3" fill="none" stroke="#ECB01E" stroke-width="2.6" stroke-linejoin="round" />
<polyline points="205.81,245.6 221.9,251.8 237.99,254.1 254.08,258.7 270.17,262.3 286.26,269.4 302.35,272.1 318.44,277.8 334.53,281.4 350.62,288.7 366.71,302.7 382.8,309.1 398.89,316.3 414.98,331.5 431.07,341.2 447.16,352.9" fill="none" stroke="#803291" stroke-width="2.6" stroke-linejoin="round" />
</g>
<text x="199.6" y="306.1" font-size="24.8" text-anchor="end" fill="#000" >0.6</text>
<text x="199.6" y="414.4" font-size="24.8" text-anchor="end" fill="#000" >0.5</text>
<text x="264.4" y="429.8" font-size="24.8" text-anchor="middle" fill="#000" >2.23</text>
<text x="331.2" y="429.8" font-size="24.8" text-anchor="middle" fill="#000" >2.24</text>
<text x="401.4" y="429.8" font-size="24.8" text-anchor="middle" fill="#000" >2.25</text>
<text x="301.6" y="362.9" font-size="25" fill="#E02823" font-style="italic">T<tspan font-size="17.5" dx="-0.8" dy="8.9">C</tspan></text>
<circle cx="327.5" cy="62.5" r="20.2" fill="none" stroke="#000" stroke-width="4.4"/>
<line x1="307.3" y1="63.2" x2="209.6" y2="210.4" stroke="#000" stroke-width="4.4" stroke-dasharray="15.5 17"/>
<line x1="340.4" y1="78" x2="449" y2="210.4" stroke="#000" stroke-width="4.4" stroke-dasharray="15.5 17"/>
<circle cx="107.1" cy="504.4" r="4.9" fill="#7D3C96"/>
<circle cx="122.5" cy="506.1" r="4.9" fill="#7D3C96"/>
<circle cx="137.9" cy="509.2" r="4.9" fill="#7D3C96"/>
<circle cx="153.3" cy="510.3" r="4.9" fill="#7D3C96"/>
<circle cx="168.7" cy="515.6" r="4.9" fill="#7D3C96"/>
<circle cx="183.4" cy="515.6" r="4.9" fill="#7D3C96"/>
<circle cx="199.1" cy="522.2" r="4.9" fill="#7D3C96"/>
<circle cx="214.2" cy="523.1" r="4.9" fill="#7D3C96"/>
<circle cx="229.2" cy="529.3" r="4.9" fill="#7D3C96"/>
<circle cx="244.6" cy="531.7" r="4.9" fill="#7D3C96"/>
<circle cx="260" cy="538.5" r="4.9" fill="#7D3C96"/>
<circle cx="274.9" cy="545.9" r="4.9" fill="#7D3C96"/>
<circle cx="290.3" cy="553.9" r="4.9" fill="#7D3C96"/>
<circle cx="305.7" cy="571.3" r="4.9" fill="#7D3C96"/>
<circle cx="320.4" cy="585.9" r="4.9" fill="#7D3C96"/>
<circle cx="336.3" cy="604.4" r="4.9" fill="#7D3C96"/>
<circle cx="351.4" cy="631.6" r="4.9" fill="#7D3C96"/>
<circle cx="367" cy="661.8" r="4.9" fill="#7D3C96"/>
<circle cx="381.9" cy="678.5" r="4.9" fill="#7D3C96"/>
<circle cx="397.2" cy="694.3" r="4.9" fill="#7D3C96"/>
<circle cx="412.3" cy="707.6" r="4.9" fill="#7D3C96"/>
<circle cx="427.7" cy="728.2" r="4.9" fill="#7D3C96"/>
<circle cx="443" cy="750" r="4.9" fill="#7D3C96"/>
<circle cx="458.1" cy="751.8" r="4.9" fill="#7D3C96"/>
<circle cx="473.2" cy="757.3" r="4.9" fill="#7D3C96"/>
<circle cx="488.8" cy="760.9" r="4.9" fill="#7D3C96"/>
<circle cx="503.9" cy="766.4" r="4.9" fill="#7D3C96"/>
<circle cx="519" cy="770.6" r="4.9" fill="#7D3C96"/>
<circle cx="534.6" cy="775.1" r="4.9" fill="#7D3C96"/>
<circle cx="549.8" cy="776.8" r="4.9" fill="#7D3C96"/>
<circle cx="565" cy="773.6" r="4.9" fill="#7D3C96"/>
<circle cx="580.4" cy="777.5" r="4.9" fill="#7D3C96"/>
<circle cx="595.5" cy="778.4" r="4.9" fill="#7D3C96"/>
<circle cx="610.9" cy="779.2" r="4.9" fill="#7D3C96"/>
<circle cx="626.2" cy="782.6" r="4.9" fill="#7D3C96"/>
<circle cx="641.4" cy="783.1" r="4.9" fill="#7D3C96"/>
<circle cx="656.5" cy="783.5" r="4.9" fill="#7D3C96"/>
<circle cx="671.7" cy="783.8" r="4.9" fill="#7D3C96"/>
<circle cx="686.8" cy="783.8" r="4.9" fill="#7D3C96"/>
<circle cx="702.2" cy="783.5" r="4.9" fill="#7D3C96"/>
<circle cx="717.3" cy="784.3" r="4.9" fill="#7D3C96"/>
<circle cx="732.7" cy="785.2" r="4.9" fill="#7D3C96"/>
<circle cx="747.8" cy="784.7" r="4.9" fill="#7D3C96"/>
<circle cx="320.4" cy="585.8" r="4.9" fill="#E0521E"/>
<circle cx="107.1" cy="516.7" r="4.9" fill="#DE0E86"/>
<circle cx="137.9" cy="525.7" r="4.9" fill="#DE0E86"/>
<circle cx="168.3" cy="522.2" r="4.9" fill="#DE0E86"/>
<circle cx="199.1" cy="530.2" r="4.9" fill="#DE0E86"/>
<circle cx="229.2" cy="540" r="4.9" fill="#DE0E86"/>
<circle cx="260" cy="547.6" r="4.9" fill="#DE0E86"/>
<circle cx="290.3" cy="565.3" r="4.9" fill="#DE0E86"/>
<circle cx="321.6" cy="587.1" r="4.9" fill="#DE0E86"/>
<circle cx="329.9" cy="607.3" r="4.9" fill="#DE0E86"/>
<circle cx="337.7" cy="611.1" r="4.9" fill="#DE0E86"/>
<circle cx="345.2" cy="631.6" r="4.9" fill="#DE0E86"/>
<circle cx="353" cy="649.2" r="4.9" fill="#DE0E86"/>
<circle cx="360.6" cy="662.3" r="4.9" fill="#DE0E86"/>
<circle cx="368.2" cy="686.5" r="4.9" fill="#DE0E86"/>
<circle cx="375.9" cy="697.3" r="4.9" fill="#DE0E86"/>
<circle cx="383.5" cy="713.8" r="4.9" fill="#DE0E86"/>
<circle cx="391" cy="721.3" r="4.9" fill="#DE0E86"/>
<circle cx="398.8" cy="739" r="4.9" fill="#DE0E86"/>
<circle cx="406.4" cy="744.9" r="4.9" fill="#DE0E86"/>
<circle cx="413.9" cy="752.2" r="4.9" fill="#DE0E86"/>
<circle cx="421.7" cy="759.6" r="4.9" fill="#DE0E86"/>
<circle cx="429.3" cy="764.8" r="4.9" fill="#DE0E86"/>
<circle cx="436.6" cy="764.8" r="4.9" fill="#DE0E86"/>
<circle cx="444.6" cy="769.4" r="4.9" fill="#DE0E86"/>
<circle cx="452.2" cy="772.8" r="4.9" fill="#DE0E86"/>
<circle cx="459.7" cy="775.8" r="4.9" fill="#DE0E86"/>
<circle cx="467.1" cy="777" r="4.9" fill="#DE0E86"/>
<circle cx="475.1" cy="775.6" r="4.9" fill="#DE0E86"/>
<circle cx="482.4" cy="778.6" r="4.9" fill="#DE0E86"/>
<circle cx="490" cy="780.2" r="4.9" fill="#DE0E86"/>
<circle cx="498" cy="780.9" r="4.9" fill="#DE0E86"/>
<circle cx="505.3" cy="782" r="4.9" fill="#DE0E86"/>
<circle cx="512.8" cy="782.5" r="4.9" fill="#DE0E86"/>
<circle cx="520.4" cy="782.5" r="4.9" fill="#DE0E86"/>
<circle cx="528.2" cy="783.2" r="4.9" fill="#DE0E86"/>
<circle cx="535.7" cy="784.3" r="4.9" fill="#DE0E86"/>
<circle cx="543.3" cy="783.8" r="4.9" fill="#DE0E86"/>
<circle cx="551.1" cy="784.3" r="4.9" fill="#DE0E86"/>
<circle cx="558.6" cy="784.3" r="4.9" fill="#DE0E86"/>
<circle cx="566.2" cy="784" r="4.9" fill="#DE0E86"/>
<circle cx="573.8" cy="784" r="4.9" fill="#DE0E86"/>
<circle cx="581.4" cy="784" r="4.9" fill="#DE0E86"/>
<circle cx="589" cy="784" r="4.9" fill="#DE0E86"/>
<circle cx="596.6" cy="784" r="4.9" fill="#DE0E86"/>
<circle cx="604.2" cy="784" r="4.9" fill="#DE0E86"/>
<circle cx="611.8" cy="784" r="4.9" fill="#DE0E86"/>
<circle cx="619.4" cy="784" r="4.9" fill="#DE0E86"/>
<circle cx="656.5" cy="787.7" r="4.9" fill="#DE0E86"/>
<circle cx="686.8" cy="788.2" r="4.9" fill="#DE0E86"/>
<circle cx="717.3" cy="788.2" r="4.9" fill="#DE0E86"/>
<circle cx="747.8" cy="788.2" r="4.9" fill="#DE0E86"/>
<rect x="517.2" y="460" width="185.3" height="98.6" fill="#fff" stroke="#000" stroke-width="4.3"/>
<circle cx="546.9" cy="486.5" r="5" fill="#7D3C96"/>
<circle cx="546.9" cy="534.3" r="5" fill="#DE0E86"/>
<text x="563.8" y="495.5" font-size="24.6" text-anchor="start" fill="#000" ><tspan font-style="italic">L</tspan><tspan dy="1.6"> = </tspan><tspan dy="-1.6">50</tspan></text>
<text x="563.8" y="541.8" font-size="24.6" text-anchor="start" fill="#000" ><tspan font-style="italic">L</tspan><tspan dy="1.6"> = </tspan><tspan dy="-1.6">100</tspan></text>
<text x="609.8" y="589.8" font-size="25" text-anchor="middle" fill="#000" >2D Ferromagnetic</text>
<line x1="342.6" y1="216.9" x2="342.6" y2="404" stroke="#E02823" stroke-width="4.3" stroke-dasharray="8.4 7.83"/>
<line x1="342.6" y1="409.4" x2="342.6" y2="790.4" stroke="#E02823" stroke-width="4.3" stroke-dasharray="8.3 7.9"/>
<path d="M166.5,620.8 C168.5,610.8 176.5,605.3 188.5,603.8 C220.5,600.8 254.5,600.8 290.5,603.8 C304.5,605.8 310.5,612.8 309.5,617.8 C308.5,620.8 306.5,622.3 304.5,622.8 M166.5,679.65 C168.5,669.65 176.5,664.15 188.5,662.65 C220.5,659.65 254.5,659.65 290.5,662.65 C304.5,664.65 310.5,671.65 309.5,676.65 C308.5,679.65 306.5,681.15 304.5,681.65 M166.5,734.7 C168.5,724.7 176.5,719.2 188.5,717.7 C220.5,714.7 254.5,714.7 290.5,717.7 C304.5,719.7 310.5,726.7 309.5,731.7 C308.5,734.7 306.5,736.2 304.5,736.7 M184.5,611.8 C193.5,612.8 199.5,618.8 200,628.8 C204,654.8 204,708.7 201,737.7 C199.5,748.7 193.5,752.7 188.5,751.7 C185.5,750.7 183.5,749.7 182.5,747.7 M241.5,611.8 C250.5,612.8 256.5,618.8 257,628.8 C261,654.8 261,708.7 258,737.7 C256.5,748.7 250.5,752.7 245.5,751.7 C242.5,750.7 240.5,749.7 239.5,747.7 M298.5,611.8 C307.5,612.8 313.5,618.8 314,628.8 C318,654.8 318,708.7 315,737.7 C313.5,748.7 307.5,752.7 302.5,751.7 C299.5,750.7 297.5,749.7 296.5,747.7" fill="none" stroke="#7DCBE6" stroke-width="3.5" stroke-dasharray="5.8 3.9"/>
<line x1="174" y1="624.8" x2="301" y2="624.8" stroke="#0A9FD4" stroke-width="3.3" />
<line x1="174" y1="683.65" x2="301" y2="683.65" stroke="#0A9FD4" stroke-width="3.3" />
<line x1="174" y1="738.7" x2="301" y2="738.7" stroke="#0A9FD4" stroke-width="3.3" />
<line x1="180.5" y1="618.3" x2="180.5" y2="745.2" stroke="#0A9FD4" stroke-width="3.3" />
<line x1="237.5" y1="618.3" x2="237.5" y2="745.2" stroke="#0A9FD4" stroke-width="3.3" />
<line x1="294.5" y1="618.3" x2="294.5" y2="745.2" stroke="#0A9FD4" stroke-width="3.3" />
<circle cx="180.5" cy="624.8" r="7.5" fill="#000" fill-opacity="0.78"/>
<circle cx="237.5" cy="624.8" r="7.5" fill="#000" fill-opacity="0.78"/>
<circle cx="294.5" cy="624.8" r="7.5" fill="#000" fill-opacity="0.78"/>
<circle cx="180.5" cy="683.65" r="7.5" fill="#000" fill-opacity="0.78"/>
<circle cx="237.5" cy="683.65" r="7.5" fill="#000" fill-opacity="0.78"/>
<circle cx="294.5" cy="683.65" r="7.5" fill="#000" fill-opacity="0.78"/>
<circle cx="180.5" cy="738.7" r="7.5" fill="#000" fill-opacity="0.78"/>
<circle cx="237.5" cy="738.7" r="7.5" fill="#000" fill-opacity="0.78"/>
<circle cx="294.5" cy="738.7" r="7.5" fill="#000" fill-opacity="0.78"/>
<line x1="177.5" y1="585.3" x2="289.7" y2="585.3" stroke="#505050" stroke-width="4.3" />
<polygon points="283,578.2 288.8,578.2 295.7,585.3 288.8,592.1 283,592.1 289.5,585.3" fill="#505050"/>
<line x1="155.1" y1="622.9" x2="155.1" y2="735" stroke="#505050" stroke-width="4.3" />
<polygon points="148.1,728.3 148.1,734.1 155.1,741 162.1,734.1 162.1,728.3 155.1,734.8" fill="#505050"/>
<text x="233.2" y="576.5" font-size="25" font-style="italic">L</text>
<text x="124" y="692.3" font-size="25" font-style="italic">L</text>
<text x="116.8" y="431.6" font-size="42" font-weight="bold">a</text>
<text x="116.8" y="782" font-size="42" font-weight="bold">b</text>
<rect x="917.6" y="1.9" width="430.2" height="788.5" fill="none" stroke="#000" stroke-width="4.5"/>
<line x1="983.1" y1="1.9" x2="983.1" y2="11.4" stroke="#000" stroke-width="4.5" />
<line x1="983.1" y1="790.4" x2="983.1" y2="780.9" stroke="#000" stroke-width="4.5" />
<line x1="1048.2" y1="1.9" x2="1048.2" y2="11.4" stroke="#000" stroke-width="4.5" />
<line x1="1048.2" y1="790.4" x2="1048.2" y2="780.9" stroke="#000" stroke-width="4.5" />
<line x1="1113.3" y1="1.9" x2="1113.3" y2="11.4" stroke="#000" stroke-width="4.5" />
<line x1="1113.3" y1="790.4" x2="1113.3" y2="780.9" stroke="#000" stroke-width="4.5" />
<line x1="1178.4" y1="1.9" x2="1178.4" y2="11.4" stroke="#000" stroke-width="4.5" />
<line x1="1178.4" y1="790.4" x2="1178.4" y2="780.9" stroke="#000" stroke-width="4.5" />
<line x1="1243.5" y1="1.9" x2="1243.5" y2="11.4" stroke="#000" stroke-width="4.5" />
<line x1="1243.5" y1="790.4" x2="1243.5" y2="780.9" stroke="#000" stroke-width="4.5" />
<line x1="1308.6" y1="1.9" x2="1308.6" y2="11.4" stroke="#000" stroke-width="4.5" />
<line x1="1308.6" y1="790.4" x2="1308.6" y2="780.9" stroke="#000" stroke-width="4.5" />
<line x1="917.6" y1="672.9" x2="927.5" y2="672.9" stroke="#000" stroke-width="4.5" />
<line x1="1347.8" y1="672.9" x2="1337.9" y2="672.9" stroke="#000" stroke-width="4.5" />
<text x="904.8" y="682.4" font-size="30" text-anchor="end" fill="#000" >2</text>
<line x1="917.6" y1="515" x2="927.5" y2="515" stroke="#000" stroke-width="4.5" />
<line x1="1347.8" y1="515" x2="1337.9" y2="515" stroke="#000" stroke-width="4.5" />
<text x="904.8" y="524.5" font-size="30" text-anchor="end" fill="#000" >4</text>
<line x1="917.6" y1="357.1" x2="927.5" y2="357.1" stroke="#000" stroke-width="4.5" />
<line x1="1347.8" y1="357.1" x2="1337.9" y2="357.1" stroke="#000" stroke-width="4.5" />
<text x="904.8" y="366.6" font-size="30" text-anchor="end" fill="#000" >6</text>
<line x1="917.6" y1="199.2" x2="927.5" y2="199.2" stroke="#000" stroke-width="4.5" />
<line x1="1347.8" y1="199.2" x2="1337.9" y2="199.2" stroke="#000" stroke-width="4.5" />
<text x="904.8" y="208.7" font-size="30" text-anchor="end" fill="#000" >8</text>
<line x1="917.6" y1="41.3" x2="927.5" y2="41.3" stroke="#000" stroke-width="4.5" />
<line x1="1347.8" y1="41.3" x2="1337.9" y2="41.3" stroke="#000" stroke-width="4.5" />
<text x="904.8" y="50.8" font-size="30" text-anchor="end" fill="#000" >10</text>
<text x="918" y="825" font-size="30" text-anchor="middle" fill="#000" >2</text>
<text x="1048.2" y="825" font-size="30" text-anchor="middle" fill="#000" >3</text>
<text x="1178.4" y="825" font-size="30" text-anchor="middle" fill="#000" >4</text>
<text x="1308.6" y="825" font-size="30" text-anchor="middle" fill="#000" >5</text>
<text x="1133.6" y="867.8" font-size="29.5" text-anchor="middle" fill="#000" >log <tspan font-style="italic">L</tspan></text>
<g transform="translate(843,443.1) rotate(-90)">
<text x="-2" y="0" font-size="29">log</text>
<text x="45" y="0" font-size="24" font-style="italic">&#964;</text>
<text x="59" y="-12.4" font-size="20" font-style="italic">m</text>
<text x="55" y="11.3" font-size="20">auto</text>
</g>
<line x1="957.4" y1="495.7" x2="1310.8" y2="62.2" stroke="#000" stroke-width="4.5" stroke-dasharray="11.5 4.6"/>
<line x1="957.4" y1="612.9" x2="1310.8" y2="169.2" stroke="#000" stroke-width="4.5" stroke-dasharray="11.5 4.6"/>
<line x1="957.4" y1="679.2" x2="1310.5" y2="489.5" stroke="#000" stroke-width="4.5" stroke-dasharray="11.5 4.6"/>
<line x1="957.4" y1="752.6" x2="1310.5" y2="554.8" stroke="#000" stroke-width="4.5" stroke-dasharray="11.5 4.6"/>
<line x1="957.4" y1="494.6" x2="957.4" y2="511" stroke="#00A0D2" stroke-width="2.2" />
<line x1="1047.64" y1="373.6" x2="1047.64" y2="405.6" stroke="#00A0D2" stroke-width="2.2" />
<line x1="1100.44" y1="283.3" x2="1100.44" y2="345.3" stroke="#00A0D2" stroke-width="2.2" />
<line x1="1137.89" y1="239.9" x2="1137.89" y2="315.1" stroke="#00A0D2" stroke-width="2.2" />
<line x1="1166.95" y1="184.8" x2="1166.95" y2="282.8" stroke="#00A0D2" stroke-width="2.2" />
<line x1="1190.68" y1="157.3" x2="1190.68" y2="253.7" stroke="#00A0D2" stroke-width="2.2" />
<line x1="1210.75" y1="122.5" x2="1210.75" y2="230.1" stroke="#00A0D2" stroke-width="2.2" />
<line x1="1228.14" y1="91.5" x2="1228.14" y2="234.3" stroke="#00A0D2" stroke-width="2.2" />
<line x1="1243.48" y1="64.9" x2="1243.48" y2="181.3" stroke="#00A0D2" stroke-width="2.2" />
<line x1="1257.19" y1="62.2" x2="1257.19" y2="170.8" stroke="#00A0D2" stroke-width="2.2" />
<line x1="1269.6" y1="59.4" x2="1269.6" y2="164.8" stroke="#00A0D2" stroke-width="2.2" />
<line x1="1280.93" y1="57.2" x2="1280.93" y2="153.4" stroke="#00A0D2" stroke-width="2.2" />
<line x1="1291.35" y1="49" x2="1291.35" y2="135.8" stroke="#00A0D2" stroke-width="2.2" />
<line x1="1301" y1="42.4" x2="1301" y2="127" stroke="#00A0D2" stroke-width="2.2" />
<line x1="1309.98" y1="38" x2="1309.98" y2="118.2" stroke="#00A0D2" stroke-width="2.2" />
<line x1="957.4" y1="612.5" x2="957.4" y2="616.5" stroke="#00A0D2" stroke-width="2.2" />
<line x1="1047.64" y1="495.3" x2="1047.64" y2="507.3" stroke="#00A0D2" stroke-width="2.2" />
<line x1="1100.44" y1="422.9" x2="1100.44" y2="444.9" stroke="#00A0D2" stroke-width="2.2" />
<line x1="1137.89" y1="370.6" x2="1137.89" y2="402.2" stroke="#00A0D2" stroke-width="2.2" />
<line x1="1166.95" y1="328" x2="1166.95" y2="368.6" stroke="#00A0D2" stroke-width="2.2" />
<line x1="1190.68" y1="293.8" x2="1190.68" y2="346.4" stroke="#00A0D2" stroke-width="2.2" />
<line x1="1210.75" y1="231.5" x2="1210.75" y2="335.5" stroke="#00A0D2" stroke-width="2.2" />
<line x1="1228.14" y1="230.6" x2="1228.14" y2="306.6" stroke="#00A0D2" stroke-width="2.2" />
<line x1="1243.48" y1="213.9" x2="1243.48" y2="290.5" stroke="#00A0D2" stroke-width="2.2" />
<line x1="1257.19" y1="190.4" x2="1257.19" y2="266.4" stroke="#00A0D2" stroke-width="2.2" />
<line x1="1269.6" y1="166.9" x2="1269.6" y2="286.9" stroke="#00A0D2" stroke-width="2.2" />
<line x1="1280.93" y1="150.2" x2="1280.93" y2="265.6" stroke="#00A0D2" stroke-width="2.2" />
<line x1="1291.35" y1="131.6" x2="1291.35" y2="240.6" stroke="#00A0D2" stroke-width="2.2" />
<line x1="1301" y1="137.1" x2="1301" y2="250.1" stroke="#00A0D2" stroke-width="2.2" />
<line x1="1309.98" y1="126.7" x2="1309.98" y2="230.7" stroke="#00A0D2" stroke-width="2.2" />
<line x1="957.4" y1="738.5" x2="957.4" y2="768.5" stroke="#E45C24" stroke-width="2.2" />
<circle cx="957.4" cy="502.8" r="5.5" fill="#00A0D2"/>
<circle cx="1047.64" cy="389.6" r="5.5" fill="#00A0D2"/>
<circle cx="1100.44" cy="314.3" r="5.5" fill="#00A0D2"/>
<circle cx="1137.89" cy="277.5" r="5.5" fill="#00A0D2"/>
<circle cx="1166.95" cy="233.8" r="5.5" fill="#00A0D2"/>
<circle cx="1190.68" cy="205.5" r="5.5" fill="#00A0D2"/>
<circle cx="1210.75" cy="176.3" r="5.5" fill="#00A0D2"/>
<circle cx="1228.14" cy="162.9" r="5.5" fill="#00A0D2"/>
<circle cx="1243.48" cy="123.1" r="5.5" fill="#00A0D2"/>
<circle cx="1257.19" cy="116.5" r="5.5" fill="#00A0D2"/>
<circle cx="1269.6" cy="112.1" r="5.5" fill="#00A0D2"/>
<circle cx="1280.93" cy="105.3" r="5.5" fill="#00A0D2"/>
<circle cx="1291.35" cy="92.4" r="5.5" fill="#00A0D2"/>
<circle cx="1301" cy="84.7" r="5.5" fill="#00A0D2"/>
<circle cx="1309.98" cy="78.1" r="5.5" fill="#00A0D2"/>
<circle cx="957.4" cy="614.5" r="5.5" fill="#00A0D2"/>
<circle cx="1047.64" cy="501.3" r="5.5" fill="#00A0D2"/>
<circle cx="1100.44" cy="433.9" r="5.5" fill="#00A0D2"/>
<circle cx="1137.89" cy="386.4" r="5.5" fill="#00A0D2"/>
<circle cx="1166.95" cy="348.3" r="5.5" fill="#00A0D2"/>
<circle cx="1190.68" cy="320.1" r="5.5" fill="#00A0D2"/>
<circle cx="1210.75" cy="283.5" r="5.5" fill="#00A0D2"/>
<circle cx="1228.14" cy="268.6" r="5.5" fill="#00A0D2"/>
<circle cx="1243.48" cy="252.2" r="5.5" fill="#00A0D2"/>
<circle cx="1257.19" cy="228.4" r="5.5" fill="#00A0D2"/>
<circle cx="1269.6" cy="226.9" r="5.5" fill="#00A0D2"/>
<circle cx="1280.93" cy="207.9" r="5.5" fill="#00A0D2"/>
<circle cx="1291.35" cy="186.1" r="5.5" fill="#00A0D2"/>
<circle cx="1301" cy="193.6" r="5.5" fill="#00A0D2"/>
<circle cx="1309.98" cy="178.7" r="5.5" fill="#00A0D2"/>
<circle cx="957.4" cy="679.2" r="5.5" fill="#E45C24"/>
<circle cx="1047.64" cy="631.3" r="5.5" fill="#E45C24"/>
<circle cx="1100.44" cy="601.9" r="5.5" fill="#E45C24"/>
<circle cx="1137.89" cy="581" r="5.5" fill="#E45C24"/>
<circle cx="1166.95" cy="564.7" r="5.5" fill="#E45C24"/>
<circle cx="1190.68" cy="552.3" r="5.5" fill="#E45C24"/>
<circle cx="1210.75" cy="540.9" r="5.5" fill="#E45C24"/>
<circle cx="1228.14" cy="532" r="5.5" fill="#E45C24"/>
<circle cx="1243.48" cy="524.2" r="5.5" fill="#E45C24"/>
<circle cx="1257.19" cy="516.1" r="5.5" fill="#E45C24"/>
<circle cx="1269.6" cy="510.8" r="5.5" fill="#E45C24"/>
<circle cx="1280.93" cy="504.7" r="5.5" fill="#E45C24"/>
<circle cx="1291.35" cy="500.1" r="5.5" fill="#E45C24"/>
<circle cx="1301" cy="495.9" r="5.5" fill="#E45C24"/>
<circle cx="1309.98" cy="491.3" r="5.5" fill="#E45C24"/>
<circle cx="957.4" cy="753.5" r="5.5" fill="#E45C24"/>
<circle cx="1047.64" cy="704" r="5.5" fill="#E45C24"/>
<circle cx="1100.44" cy="674.6" r="5.5" fill="#E45C24"/>
<circle cx="1137.89" cy="649.8" r="5.5" fill="#E45C24"/>
<circle cx="1166.95" cy="635.6" r="5.5" fill="#E45C24"/>
<circle cx="1190.68" cy="623.2" r="5.5" fill="#E45C24"/>
<circle cx="1210.75" cy="612.5" r="5.5" fill="#E45C24"/>
<circle cx="1228.14" cy="603" r="5.5" fill="#E45C24"/>
<circle cx="1243.48" cy="594.1" r="5.5" fill="#E45C24"/>
<circle cx="1257.19" cy="586.3" r="5.5" fill="#E45C24"/>
<circle cx="1269.6" cy="579.9" r="5.5" fill="#E45C24"/>
<circle cx="1280.93" cy="573.9" r="5.5" fill="#E45C24"/>
<circle cx="1291.35" cy="568.6" r="5.5" fill="#E45C24"/>
<circle cx="1301" cy="562.9" r="5.5" fill="#E45C24"/>
<circle cx="1309.98" cy="556.9" r="5.5" fill="#E45C24"/>
<text transform="translate(1143.9,147.3) rotate(-41.7)" font-size="24.8">PRIS, <tspan font-style="italic">z</tspan><tspan dy="1.6"> = </tspan><tspan dy="-1.6">2.023</tspan></text>
<text transform="translate(1202.9,386.8) rotate(-43)" font-size="25">MH, <tspan font-style="italic">z</tspan><tspan dy="1.6"> = </tspan><tspan dy="-1.6">2.068</tspan></text>
<text transform="translate(1137.6,557) rotate(-28)" font-size="25">PRIS, <tspan font-style="italic">z</tspan><tspan dy="1.6"> = </tspan><tspan dy="-1.6">0.886</tspan></text>
<text transform="translate(1170.6,617) rotate(-28.5)" font-size="25">MH, <tspan font-style="italic">z</tspan><tspan dy="1.6"> = </tspan><tspan dy="-1.6">0.924</tspan></text>
<text x="933.2" y="43" font-size="25" text-anchor="start" fill="#000" >2D Ferromagnetic</text>
<path d="M976.4,126.5 C978.4,116.5 986.4,111 998.4,109.5 C1030.4,106.5 1064.4,106.5 1100.4,109.5 C1114.4,111.5 1120.4,118.5 1119.4,123.5 C1118.4,126.5 1116.4,128 1114.4,128.5 M976.4,185.35 C978.4,175.35 986.4,169.85 998.4,168.35 C1030.4,165.35 1064.4,165.35 1100.4,168.35 C1114.4,170.35 1120.4,177.35 1119.4,182.35 C1118.4,185.35 1116.4,186.85 1114.4,187.35 M976.4,240.4 C978.4,230.4 986.4,224.9 998.4,223.4 C1030.4,220.4 1064.4,220.4 1100.4,223.4 C1114.4,225.4 1120.4,232.4 1119.4,237.4 C1118.4,240.4 1116.4,241.9 1114.4,242.4 M994.4,117.5 C1003.4,118.5 1009.4,124.5 1009.9,134.5 C1013.9,160.5 1013.9,214.4 1010.9,243.4 C1009.4,254.4 1003.4,258.4 998.4,257.4 C995.4,256.4 993.4,255.4 992.4,253.4 M1051.4,117.5 C1060.4,118.5 1066.4,124.5 1066.9,134.5 C1070.9,160.5 1070.9,214.4 1067.9,243.4 C1066.4,254.4 1060.4,258.4 1055.4,257.4 C1052.4,256.4 1050.4,255.4 1049.4,253.4 M1108.4,117.5 C1117.4,118.5 1123.4,124.5 1123.9,134.5 C1127.9,160.5 1127.9,214.4 1124.9,243.4 C1123.4,254.4 1117.4,258.4 1112.4,257.4 C1109.4,256.4 1107.4,255.4 1106.4,253.4" fill="none" stroke="#7DCBE6" stroke-width="3.5" stroke-dasharray="5.8 3.9"/>
<line x1="983.9" y1="130.5" x2="1110.9" y2="130.5" stroke="#0A9FD4" stroke-width="3.3" />
<line x1="983.9" y1="189.35" x2="1110.9" y2="189.35" stroke="#0A9FD4" stroke-width="3.3" />
<line x1="983.9" y1="244.4" x2="1110.9" y2="244.4" stroke="#0A9FD4" stroke-width="3.3" />
<line x1="990.4" y1="124" x2="990.4" y2="250.9" stroke="#0A9FD4" stroke-width="3.3" />
<line x1="1047.4" y1="124" x2="1047.4" y2="250.9" stroke="#0A9FD4" stroke-width="3.3" />
<line x1="1104.4" y1="124" x2="1104.4" y2="250.9" stroke="#0A9FD4" stroke-width="3.3" />
<circle cx="990.4" cy="130.5" r="7.5" fill="#000" fill-opacity="0.78"/>
<circle cx="1047.4" cy="130.5" r="7.5" fill="#000" fill-opacity="0.78"/>
<circle cx="1104.4" cy="130.5" r="7.5" fill="#000" fill-opacity="0.78"/>
<circle cx="990.4" cy="189.35" r="7.5" fill="#000" fill-opacity="0.78"/>
<circle cx="1047.4" cy="189.35" r="7.5" fill="#000" fill-opacity="0.78"/>
<circle cx="1104.4" cy="189.35" r="7.5" fill="#000" fill-opacity="0.78"/>
<circle cx="990.4" cy="244.4" r="7.5" fill="#000" fill-opacity="0.78"/>
<circle cx="1047.4" cy="244.4" r="7.5" fill="#000" fill-opacity="0.78"/>
<circle cx="1104.4" cy="244.4" r="7.5" fill="#000" fill-opacity="0.78"/>
<line x1="987.4" y1="91" x2="1099.6" y2="91" stroke="#505050" stroke-width="4.3" />
<polygon points="1092.9,83.9 1098.7,83.9 1105.6,91 1098.7,97.8 1092.9,97.8 1099.4,91" fill="#505050"/>
<line x1="965" y1="128.6" x2="965" y2="240.7" stroke="#505050" stroke-width="4.3" />
<polygon points="958,234 958,239.8 965,246.7 972,239.8 972,234 965,240.5" fill="#505050"/>
<text x="1045.5" y="82.8" font-size="25" font-style="italic">L</text>
<text x="935.2" y="198.9" font-size="25" font-style="italic">L</text>
<circle cx="1334.7" cy="697.2" r="9" fill="none" stroke="#F6B08A" stroke-width="3.9" stroke-dasharray="4.1 3.1"/>
<circle cx="1319.9" cy="742.75" r="9" fill="none" stroke="#F6B08A" stroke-width="3.9" stroke-dasharray="4.1 3.1"/>
<circle cx="1281.15" cy="770.91" r="9" fill="none" stroke="#F6B08A" stroke-width="3.9" stroke-dasharray="4.1 3.1"/>
<circle cx="1233.25" cy="770.91" r="9" fill="none" stroke="#F6B08A" stroke-width="3.9" stroke-dasharray="4.1 3.1"/>
<circle cx="1194.5" cy="742.75" r="9" fill="none" stroke="#F6B08A" stroke-width="3.9" stroke-dasharray="4.1 3.1"/>
<circle cx="1179.7" cy="697.2" r="9" fill="none" stroke="#F6B08A" stroke-width="3.9" stroke-dasharray="4.1 3.1"/>
<circle cx="1194.5" cy="651.65" r="9" fill="none" stroke="#F6B08A" stroke-width="3.9" stroke-dasharray="4.1 3.1"/>
<circle cx="1233.25" cy="623.49" r="9" fill="none" stroke="#F6B08A" stroke-width="3.9" stroke-dasharray="4.1 3.1"/>
<circle cx="1281.15" cy="623.49" r="9" fill="none" stroke="#F6B08A" stroke-width="3.9" stroke-dasharray="4.1 3.1"/>
<circle cx="1319.9" cy="651.65" r="9" fill="none" stroke="#F6B08A" stroke-width="3.9" stroke-dasharray="4.1 3.1"/>
<circle cx="1257.2" cy="697.2" r="67.3" fill="none" stroke="#E45C24" stroke-width="4.2"/>
<path d="M1324.5,697.2 L1278,761.21 M1324.5,697.2 L1236.4,761.21 M1324.5,697.2 L1202.75,736.76 M1324.5,697.2 L1189.9,697.2 M1324.5,697.2 L1202.75,657.64 M1324.5,697.2 L1236.4,633.19 M1324.5,697.2 L1278,633.19 M1311.65,736.76 L1236.4,761.21 M1311.65,736.76 L1202.75,736.76 M1311.65,736.76 L1189.9,697.2 M1311.65,736.76 L1202.75,657.64 M1311.65,736.76 L1236.4,633.19 M1311.65,736.76 L1278,633.19 M1311.65,736.76 L1311.65,657.64 M1278,761.21 L1202.75,736.76 M1278,761.21 L1189.9,697.2 M1278,761.21 L1202.75,657.64 M1278,761.21 L1236.4,633.19 M1278,761.21 L1278,633.19 M1278,761.21 L1311.65,657.64 M1236.4,761.21 L1189.9,697.2 M1236.4,761.21 L1202.75,657.64 M1236.4,761.21 L1236.4,633.19 M1236.4,761.21 L1278,633.19 M1236.4,761.21 L1311.65,657.64 M1202.75,736.76 L1202.75,657.64 M1202.75,736.76 L1236.4,633.19 M1202.75,736.76 L1278,633.19 M1202.75,736.76 L1311.65,657.64 M1189.9,697.2 L1236.4,633.19 M1189.9,697.2 L1278,633.19 M1189.9,697.2 L1311.65,657.64 M1202.75,657.64 L1278,633.19 M1202.75,657.64 L1311.65,657.64 M1236.4,633.19 L1311.65,657.64" stroke="#E45C24" stroke-width="4.2" fill="none"/>
<circle cx="1324.5" cy="697.2" r="5.8" fill="#000" fill-opacity="0.77"/>
<circle cx="1311.65" cy="736.76" r="5.8" fill="#000" fill-opacity="0.77"/>
<circle cx="1278" cy="761.21" r="5.8" fill="#000" fill-opacity="0.77"/>
<circle cx="1236.4" cy="761.21" r="5.8" fill="#000" fill-opacity="0.77"/>
<circle cx="1202.75" cy="736.76" r="5.8" fill="#000" fill-opacity="0.77"/>
<circle cx="1189.9" cy="697.2" r="5.8" fill="#000" fill-opacity="0.77"/>
<circle cx="1202.75" cy="657.64" r="5.8" fill="#000" fill-opacity="0.77"/>
<circle cx="1236.4" cy="633.19" r="5.8" fill="#000" fill-opacity="0.77"/>
<circle cx="1278" cy="633.19" r="5.8" fill="#000" fill-opacity="0.77"/>
<circle cx="1311.65" cy="657.64" r="5.8" fill="#000" fill-opacity="0.77"/>
<path d="M1204.32,631.46 A84.6,84.6 0 1 1 1193.12,643.18" fill="none" stroke="#58595B" stroke-width="4.2" stroke-linecap="round"/>
<polyline points="1181.8,647.2 1194.2,642.6 1193.4,655.2" fill="none" stroke="#58595B" stroke-width="4" stroke-linejoin="miter" stroke-miterlimit="10"/>
<text x="1128.5" y="735.5" font-size="25"><tspan font-style="italic">L</tspan><tspan font-size="16" dy="-12.5">2</tspan></text>
<text x="1113.5" y="772.8" font-size="25" text-anchor="middle" fill="#000" >Infinite range</text>
<text x="926.2" y="782" font-size="42" font-weight="bold">c</text>
</svg></body></html>
